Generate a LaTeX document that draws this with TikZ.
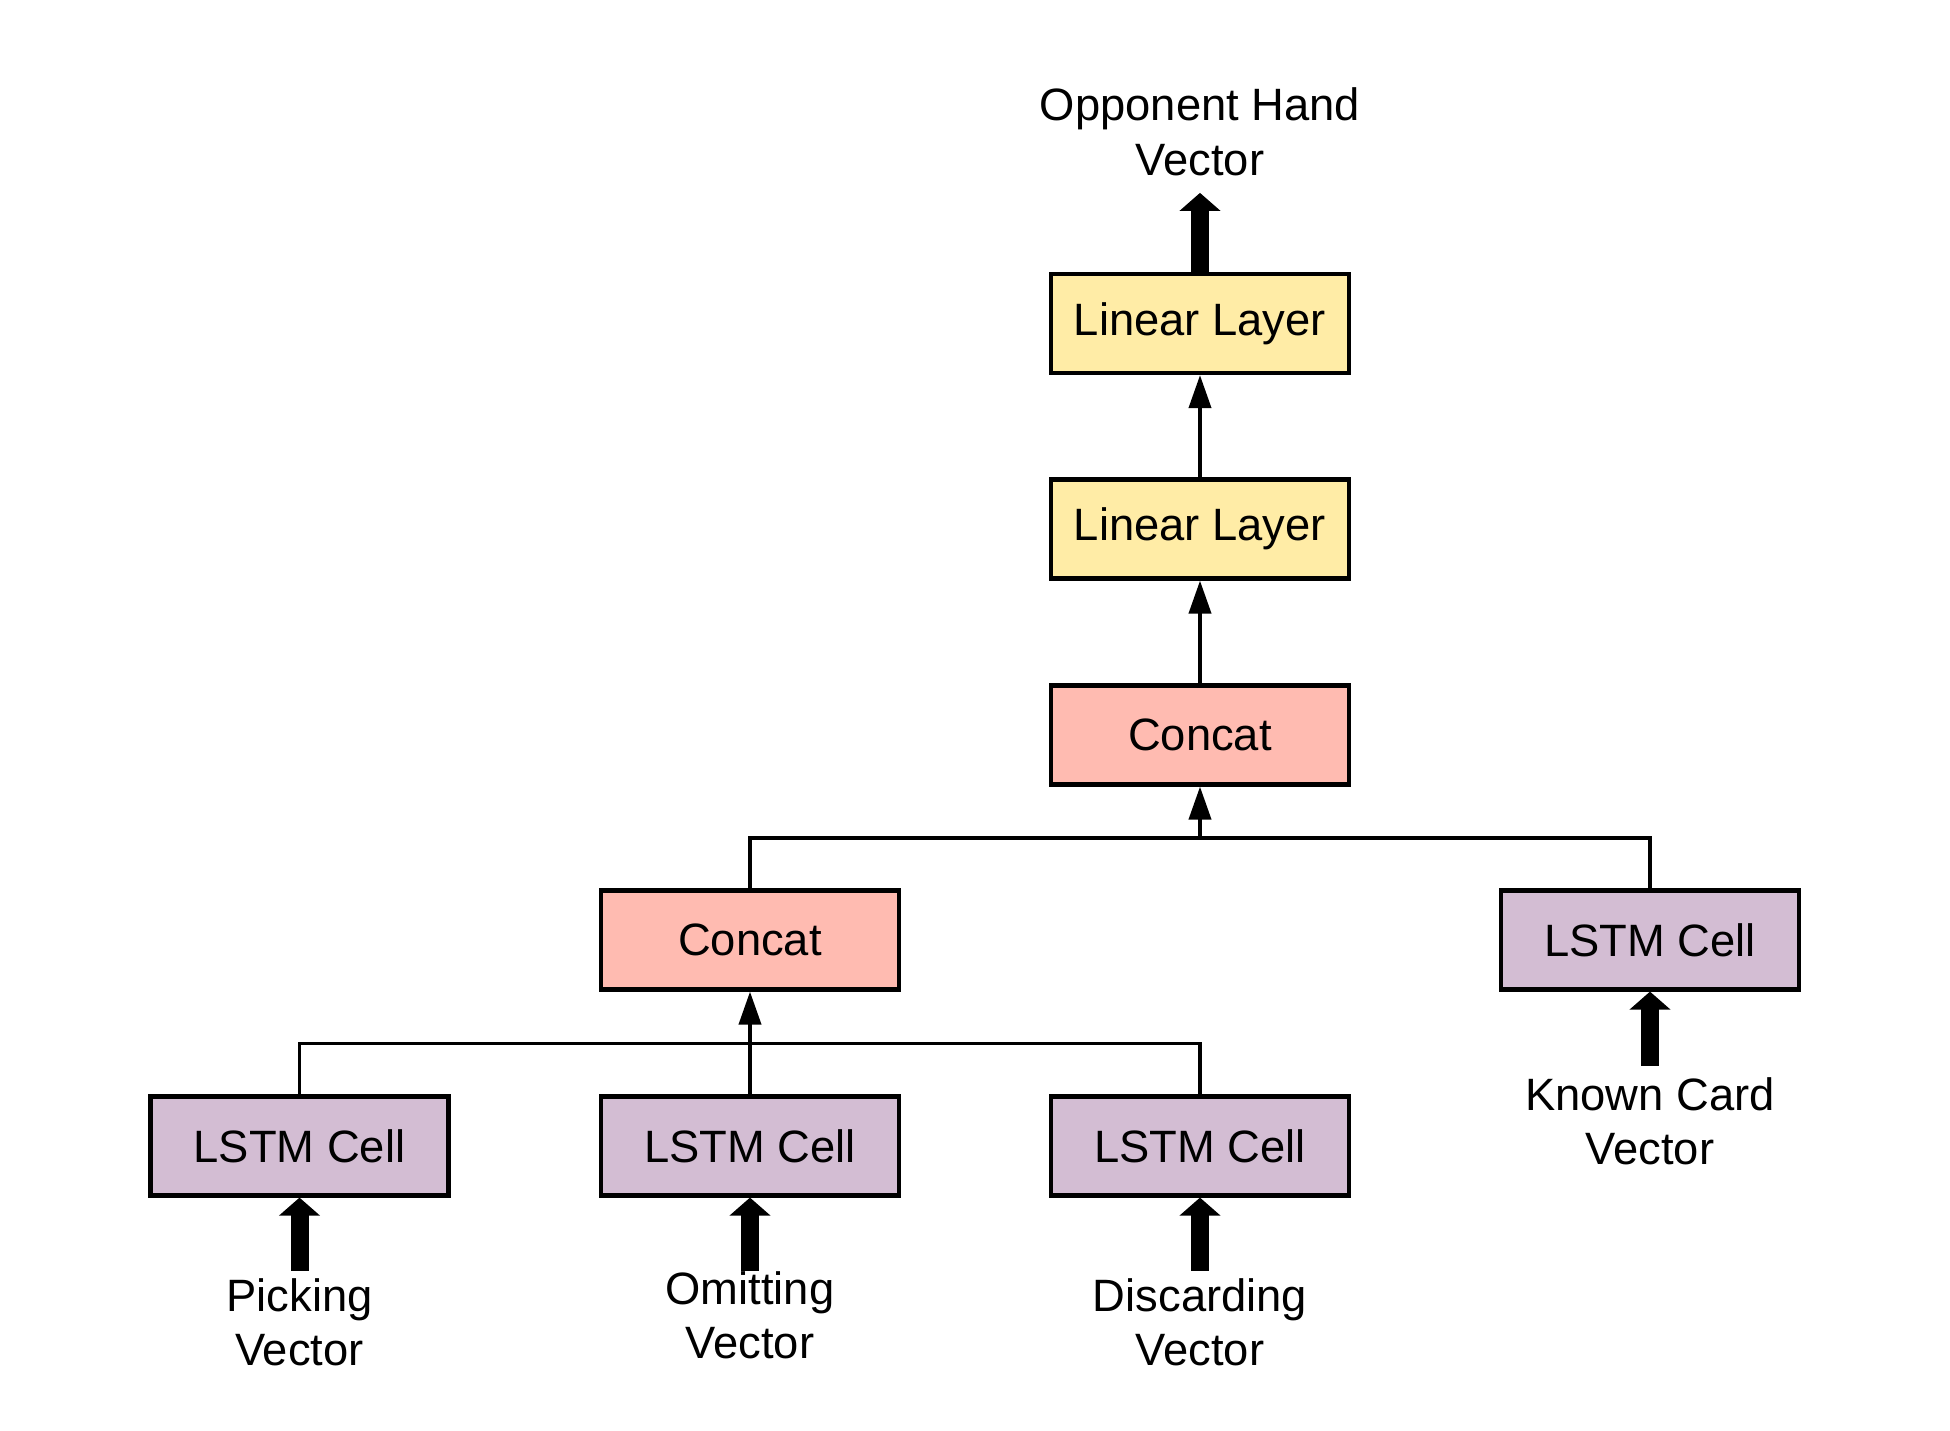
\documentclass[tikz,border=0pt]{standalone}
\usepackage{fontspec}
\setmainfont{Liberation Sans}
\usetikzlibrary{arrows.meta,positioning}
\definecolor{layeryellow}{RGB}{255,236,166}
\definecolor{concatred}{RGB}{255,187,177}
\definecolor{lstmpurple}{RGB}{211,189,211}

\begin{document}
\begin{tikzpicture}[
        font=\fontsize{12.9}{15.6}\selectfont,
        box/.style={draw, line width=1.2pt, minimum width=2.98cm, minimum height=0.99cm, inner sep=0pt},
        lstm/.style={box, fill=lstmpurple},
        concat/.style={box, fill=concatred},
        linear/.style={box, fill=layeryellow},
        vec/.style={align=center, inner sep=0.07cm},
        flow/.style={line width=1.1pt, -{Triangle[length=0.33cm, width=0.22cm]}},
        feed/.style={line width=0.18cm, -{Triangle[length=0.18cm, width=0.40cm]}}
    ]
        \useasboundingbox (0,0) rectangle (19.5,14.31);

        % LSTM cells
        \node[lstm] (lstmP) at (2.995,2.85) {LSTM Cell};
        \node[lstm] (lstmO) at (7.50,2.85) {LSTM Cell};
        \node[lstm] (lstmD) at (12.00,2.85) {LSTM Cell};
        \node[lstm] (lstmK) at (16.50,4.91) {LSTM Cell};

        % Concat and linear layers
        \node[concat] (catL) at (7.50,4.91) {Concat};
        \node[concat] (catT) at (12.00,6.96) {Concat};
        \node[linear] (lin1) at (12.00,9.02) {Linear Layer};
        \node[linear] (lin2) at (12.00,11.075) {Linear Layer};

        % Input and output vectors
        \node[vec, below=0.73cm of lstmP] (vecP) {Picking\\Vector};
        \node[vec, inner sep=0cm, below=0.73cm of lstmO] (vecO) {Omitting\\Vector};
        \node[vec, below=0.73cm of lstmD] (vecD) {Discarding\\Vector};
        \node[vec, inner sep=0.11cm, below=0.74cm of lstmK] (vecK) {Known Card\\Vector};
        \node[vec, inner sep=0.16cm, above=0.79cm of lin2] (vecH) {Opponent Hand\\Vector};

        % Joins
        \coordinate (joinB) at (7.50,3.875);
        \coordinate (joinT) at (12.00,5.93);

        % Inputs
        \draw[feed] (vecP) -- (lstmP);
        \draw[feed] (vecO) -- (lstmO);
        \draw[feed] (vecD) -- (lstmD);
        \draw[feed] (vecK) -- (lstmK);

        % Lower concat
        \draw[line width=1.1pt] (lstmP.north) |- (joinB) -| (lstmD.north);
        \draw[flow] (lstmO.north) -- (catL.south);

        % Upper concat
        \draw[line width=1.1pt] (catL.north) |- (joinT) -| (lstmK.north);
        \draw[flow] (joinT) -- (catT.south);

        % Linear layers and output
        \draw[flow] (catT.north) -- (lin1.south);
        \draw[flow] (lin1.north) -- (lin2.south);
        \draw[feed] (lin2.north) -- (vecH.south);
    \end{tikzpicture}
\end{document}
